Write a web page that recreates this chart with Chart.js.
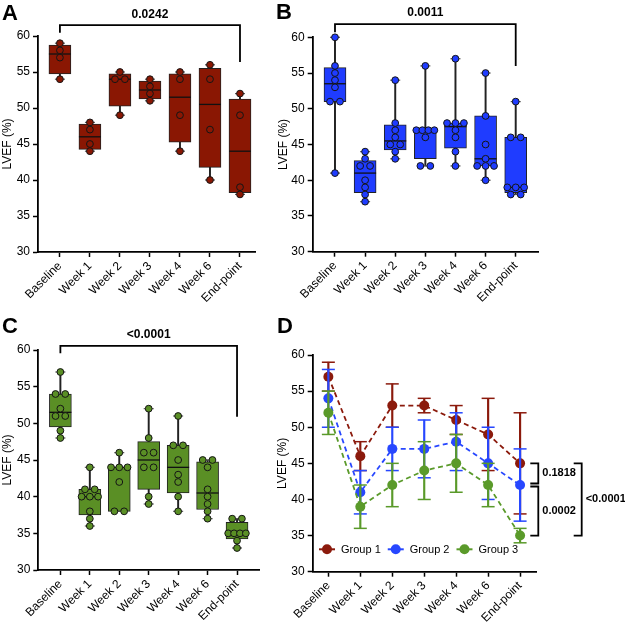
<!DOCTYPE html>
<html>
<head>
<meta charset="utf-8">
<script src="https://cdn.jsdelivr.net/npm/chart.js@4"></script>
<style>
  body { margin: 0; background: #fff; }
  #wrap { position: relative; width: 625px; height: 623px; }
  canvas { position: absolute; }
</style>
</head>
<body>
<div id="wrap">
  <canvas id="panelA" width="272" height="310" style="left:0;top:0"></canvas>
  <canvas id="panelB" width="353" height="310" style="left:272px;top:0"></canvas>
  <canvas id="panelC" width="272" height="313" style="left:0;top:310px"></canvas>
  <canvas id="panelD" width="353" height="313" style="left:272px;top:310px"></canvas>
</div>
<script>
const categories = ['Baseline', 'Week 1', 'Week 2', 'Week 3', 'Week 4', 'Week 6', 'End-point'];
const yTicks = [30, 35, 40, 45, 50, 55, 60];

// panel A - individual values and box stats
const aPoints = [[59, 58, 57, 54], [48, 47, 45, 44], [55, 54, 54, 49], [54, 53, 52, 51], [55, 54, 49, 44], [56, 54, 47, 40], [52, 49, 39, 38]];
const aMin = [54, 44, 49, 51, 44, 40, 38];
const aQ1 = [54.75, 44.25, 50.25, 51.25, 45.25, 41.75, 38.25];
const aMedian = [57.5, 46, 54, 52.5, 51.5, 50.5, 44];
const aQ3 = [58.75, 47.75, 54.75, 53.75, 54.75, 55.5, 51.25];
const aMax = [59, 48, 55, 54, 55, 56, 52];

// panel B
const bPoints = [[60, 56, 55, 54, 53, 51, 51, 41], [44, 43, 42, 42, 40, 39, 38, 37], [54, 48, 47, 46, 45, 45, 44, 43], [56, 47, 47, 47, 47, 46, 42, 42], [57, 48, 48, 48, 47, 46, 44, 42], [55, 49, 45, 43, 42, 42, 42, 40], [51, 46, 46, 39, 39, 39, 38, 38]];
const bMin = [41, 37, 43, 42, 42, 40, 38];
const bQ1 = [51, 38.25, 44.25, 43, 44.5, 42, 38.25];
const bMedian = [53.5, 41, 45.5, 47, 47.5, 43, 39];
const bQ3 = [55.75, 42.75, 47.75, 47, 48, 49, 46];
const bMax = [60, 44, 54, 56, 57, 55, 51];

// panel C
const cPoints = [[57, 54, 54, 52, 51, 51, 49, 48], [44, 41, 41, 40, 40, 40, 38, 37, 36], [46, 44, 44, 44, 42, 38, 38], [52, 48, 46, 46, 44, 44, 40, 39], [51, 47, 47, 45, 43, 42, 40, 38], [45, 45, 44, 41, 40, 39, 38, 37], [37, 37, 35, 35, 35, 35, 34, 33]];
const cMin = [48, 36, 38, 39, 38, 37, 33];
const cQ1 = [49.5, 37.5, 38, 41, 40.5, 38.25, 34.25];
const cMedian = [51.5, 40, 44, 45, 44, 40.5, 35];
const cQ3 = [54, 41, 44, 47.5, 47, 44.75, 36.5];
const cMax = [57, 44, 46, 52, 51, 45, 37];

// panel D - mean and SD per group
const groupNames = ['Group 1', 'Group 2', 'Group 3'];
const g1Mean = [57, 46, 53, 53, 51, 49, 45];
const g1Sd = [2, 2, 3, 1, 2, 5, 7];
const g2Mean = [54, 41, 47, 47, 48, 45, 42];
const g2Sd = [4, 3, 3, 4, 4, 5, 5];
const g3Mean = [52, 39, 42, 44, 45, 42, 35];
const g3Sd = [3, 3, 3, 4, 4, 3, 1];

const FONT = "Arial, 'Liberation Sans', sans-serif";
Chart.defaults.font.family = FONT;
Chart.defaults.color = '#000';

// spread equal values sideways inside the box
function jitter(vals, i) {
  const counts = {}, seen = {};
  vals.forEach(v => counts[v] = (counts[v] || 0) + 1);
  return vals.map(v => {
    const k = counts[v];
    const j = seen[v] = (seen[v] === undefined ? 0 : seen[v] + 1);
    const step = k === 2 ? 0.33 : k === 3 ? 0.28 : 0.2;
    return {x: i + (j - (k - 1) / 2) * step, y: v};
  });
}

const panelExtras = {
  id: 'panelExtras',
  afterDraw(chart, args, o) {
    const ctx = chart.ctx, xs = chart.scales.x, ys = chart.scales.y;
    ctx.save();
    ctx.fillStyle = '#000';
    ctx.strokeStyle = '#000';
    ctx.font = 'bold 22px ' + FONT;
    ctx.textBaseline = 'alphabetic';
    ctx.fillText(o.letter, o.letterX, o.letterY);
    ctx.lineWidth = 1.8;
    if (o.bracket) {
      const b = o.bracket;
      const x0 = xs.getPixelForValue(0), x1 = xs.getPixelForValue(categories.length - 1);
      const yt = ys.getPixelForValue(b.top);
      ctx.beginPath();
      ctx.moveTo(x0, ys.getPixelForValue(b.leftEnd));
      ctx.lineTo(x0, yt);
      ctx.lineTo(x1, yt);
      ctx.lineTo(x1, ys.getPixelForValue(b.rightEnd));
      ctx.stroke();
      ctx.font = 'bold 12px ' + FONT;
      ctx.textAlign = 'center';
      ctx.textBaseline = 'middle';
      ctx.fillText(b.label, (x0 + x1) / 2, yt - 11);
    }
    if (o.sideBrackets) {
      ctx.font = 'bold 11px ' + FONT;
      ctx.textAlign = 'left';
      ctx.textBaseline = 'middle';
      o.sideBrackets.forEach(b => {
        const x = chart.chartArea.right + b.dx;
        const y0 = ys.getPixelForValue(b.from) + b.gapTop;
        const y1 = ys.getPixelForValue(b.to) - b.gapBottom;
        ctx.beginPath();
        ctx.moveTo(x - 8, y0);
        ctx.lineTo(x, y0);
        ctx.lineTo(x, y1);
        ctx.lineTo(x - 8, y1);
        ctx.stroke();
        ctx.fillText(b.label, x + 4, (y0 + y1) / 2);
      });
    }
    if (o.legend) {
      ctx.font = '11px ' + FONT;
      ctx.textAlign = 'left';
      ctx.textBaseline = 'middle';
      let x = o.legend.x;
      const y = o.legend.y;
      chart.data.datasets.filter(d => d.legendItem).forEach(d => {
        ctx.strokeStyle = d.borderColor;
        ctx.fillStyle = d.borderColor;
        ctx.lineWidth = 2;
        ctx.beginPath();
        ctx.moveTo(x, y);
        ctx.lineTo(x + 16, y);
        ctx.stroke();
        ctx.beginPath();
        ctx.arc(x + 8, y, 5, 0, Math.PI * 2);
        ctx.fill();
        ctx.fillStyle = '#000';
        ctx.fillText(d.label, x + 22, y + 0.5);
        x += 22 + ctx.measureText(d.label).width + 7;
      });
    }
    ctx.restore();
  }
};

function axes(p) {
  const grid = {display: true, drawOnChartArea: false, offset: false, color: '#000', tickColor: '#000', tickLength: 5, tickWidth: 1.5};
  const border = {display: true, color: '#000', width: 1.8};
  return {
    x: {
      type: 'linear', min: p.xMin, max: p.xMax, offset: false,
      grid: grid, border: border,
      ticks: {autoSkip: false, minRotation: 45, maxRotation: 45, padding: 2, font: {size: 12}, color: '#000', callback: v => categories[v]},
      afterBuildTicks: s => { s.ticks = categories.map((c, i) => ({value: i})); },
      afterFit: s => { s.height = p.axisH; }
    },
    y: {
      type: 'linear', min: 30, max: 60,
      grid: grid, border: border,
      ticks: {font: {size: 12}, color: '#000', padding: 3},
      afterBuildTicks: s => { s.ticks = yTicks.map(v => ({value: v})); },
      title: {display: true, text: 'LVEF (%)', font: {size: 12}, color: '#000', padding: {top: 0, bottom: 0}},
      afterFit: s => { s.width = p.axisW; }
    }
  };
}

function boxChart(p) {
  const idx = categories.map((c, i) => i);
  const points = [];
  p.points.forEach((vals, i) => jitter(vals, i).forEach(pt => points.push(pt)));
  const caps = [];
  idx.forEach(i => { caps.push({x: i, y: p.min[i]}); caps.push({x: i, y: p.max[i]}); });
  new Chart(document.getElementById(p.id), {
    type: 'bar',
    data: {
      datasets: [
        {type: 'bar', data: idx.map(i => ({x: i, y: [p.min[i], p.max[i]]})), barThickness: 1.3,
         backgroundColor: '#222', grouped: false, clip: false, order: 5},
        {type: 'bar', data: idx.map(i => ({x: i, y: [p.q1[i], p.q3[i]]})), barThickness: 22,
         backgroundColor: p.color, borderColor: '#222', borderWidth: 1, borderSkipped: false, grouped: false, clip: false, order: 4},
        {type: 'scatter', data: idx.map(i => ({x: i, y: p.median[i]})), pointStyle: 'line', pointRadius: 11,
         borderColor: '#111', borderWidth: 1.3, clip: false, order: 3},
        {type: 'scatter', data: caps, pointStyle: 'line', pointRadius: 5, borderColor: '#555', borderWidth: 1.2, clip: false, order: 3},
        {type: 'scatter', data: points, pointRadius: 3.4, backgroundColor: p.color, borderColor: '#151515', borderWidth: 1, clip: false, order: 1}
      ]
    },
    options: {
      responsive: false, animation: false,
      layout: {padding: {left: p.padLeft, top: p.padTop, right: p.padRight, bottom: 0}},
      plugins: {legend: {display: false}, tooltip: {enabled: false},
        panelExtras: {letter: p.letter, letterX: p.letterX, letterY: p.letterY, bracket: p.bracket}},
      scales: axes(p)
    },
    plugins: [panelExtras]
  });
}

boxChart({id: 'panelA', letter: 'A', letterX: 2, letterY: 20, color: '#8a1703',
  points: aPoints, min: aMin, q1: aQ1, median: aMedian, q3: aQ3, max: aMax,
  bracket: {label: '0.0242', top: 61.5, leftEnd: 60.45, rightEnd: 56.4},
  xMin: -0.73, xMax: 6.5, padLeft: 0, axisW: 38, padTop: 36, padRight: 17, axisH: 58});

boxChart({id: 'panelB', letter: 'B', letterX: 4, letterY: 19, color: '#1f3cff',
  points: bPoints, min: bMin, q1: bQ1, median: bMedian, q3: bQ3, max: bMax,
  bracket: {label: '0.0011', top: 61.85, leftEnd: 60.7, rightEnd: 56},
  xMin: -0.74, xMax: 6.74, padLeft: 4, axisW: 36.7, padTop: 37.3, padRight: 87, axisH: 58.3});

boxChart({id: 'panelC', letter: 'C', letterX: 2, letterY: 23, color: '#5a8f25',
  points: cPoints, min: cMin, q1: cQ1, median: cMedian, q3: cQ3, max: cMax,
  bracket: {label: '<0.0001', top: 60.55, leftEnd: 59.55, rightEnd: 50.9},
  xMin: -0.75, xMax: 6.77, padLeft: 0, axisW: 38.3, padTop: 40, padRight: 9, axisH: 53});

// panel D
(function () {
  const p = {xMin: -0.49, xMax: 6.52, padLeft: 3, axisW: 37.7, padTop: 45, padRight: 88.3, axisH: 51.3};
  const groups = [
    {name: groupNames[0], mean: g1Mean, sd: g1Sd, color: '#8b1a0c', order: 8},
    {name: groupNames[1], mean: g2Mean, sd: g2Sd, color: '#2747ff', order: 6},
    {name: groupNames[2], mean: g3Mean, sd: g3Sd, color: '#5a9a2a', order: 4}
  ];
  const idx = categories.map((c, i) => i);
  const datasets = [];
  groups.forEach(g => {
    const caps = [];
    idx.forEach(i => { caps.push({x: i, y: g.mean[i] - g.sd[i]}); caps.push({x: i, y: g.mean[i] + g.sd[i]}); });
    datasets.push({type: 'bar', data: idx.map(i => ({x: i, y: [g.mean[i] - g.sd[i], g.mean[i] + g.sd[i]]})),
      barThickness: 1.5, backgroundColor: g.color, grouped: false, clip: false, order: g.order + 1});
    datasets.push({type: 'scatter', data: caps, pointStyle: 'line', pointRadius: 6.5,
      borderColor: g.color, borderWidth: 1.5, clip: false, order: g.order + 1});
    datasets.push({type: 'line', label: g.name, legendItem: true, data: idx.map(i => ({x: i, y: g.mean[i]})),
      borderColor: g.color, borderWidth: 1.8, borderDash: [5, 3.5], fill: false, tension: 0, clip: false,
      pointRadius: 5, pointBackgroundColor: g.color, pointBorderColor: g.color, pointBorderWidth: 0, order: g.order});
  });
  new Chart(document.getElementById('panelD'), {
    type: 'bar',
    data: {datasets: datasets},
    options: {
      responsive: false, animation: false,
      layout: {padding: {left: p.padLeft, top: p.padTop, right: p.padRight, bottom: 0}},
      plugins: {legend: {display: false}, tooltip: {enabled: false},
        panelExtras: {
          letter: 'D', letterX: 5, letterY: 23,
          sideBrackets: [
            {from: g1Mean[6], to: g2Mean[6], dx: 1.6, gapTop: 0, gapBottom: 1.5, label: '0.1818'},
            {from: g2Mean[6], to: g3Mean[6], dx: 1.6, gapTop: 1.5, gapBottom: 0, label: '0.0002'},
            {from: g1Mean[6], to: g3Mean[6], dx: 45, gapTop: 0, gapBottom: 0, label: '<0.0001'}
          ],
          legend: {x: 47, y: 239.3}
        }},
      scales: axes(p)
    },
    plugins: [panelExtras]
  });
})();
</script>
</body>
</html>
